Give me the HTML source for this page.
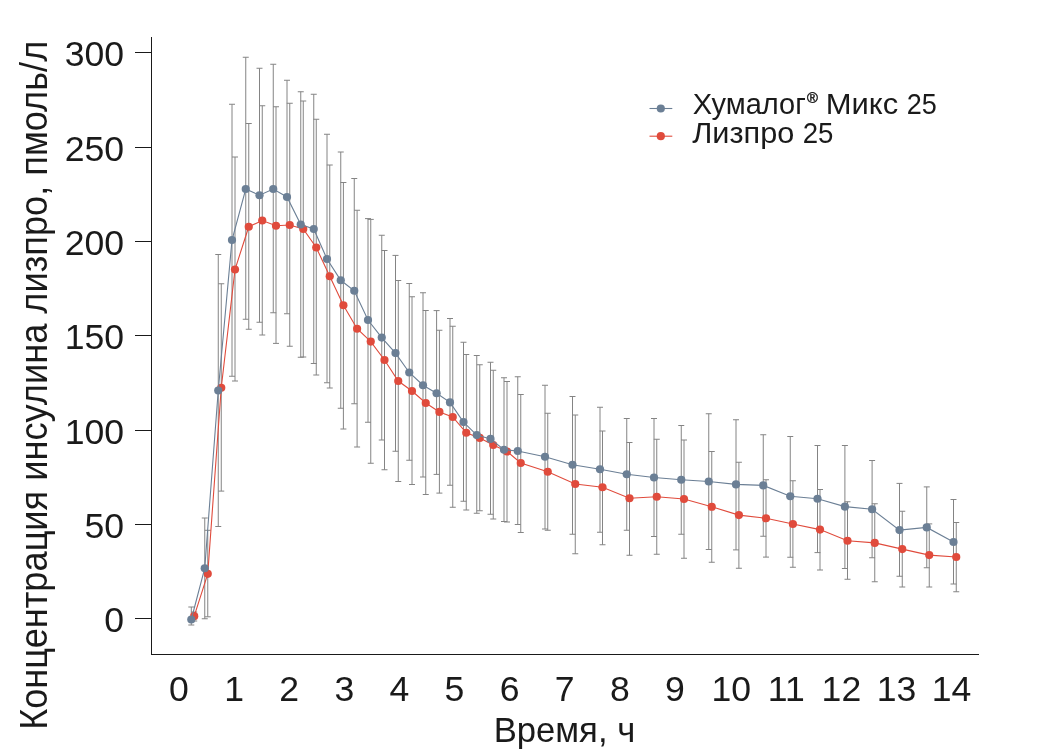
<!DOCTYPE html>
<html lang="ru"><head><meta charset="utf-8"><title>Концентрация инсулина лизпро</title>
<style>html,body{margin:0;padding:0;background:#fff}svg{display:block}</style></head><body>
<svg width="1040" height="753" viewBox="0 0 1040 753" font-family="Liberation Sans, Arial, sans-serif" fill="#1a1a1a">
<rect width="1040" height="753" fill="#fff"/>
<path d="M194.20 612.00V621.00M191.20 612.00H197.20M191.20 621.00H197.20M207.75 530.30V616.80M204.75 530.30H210.75M204.75 616.80H210.75M221.25 283.75V491.10M218.25 283.75H224.25M218.25 491.10H224.25M235.00 157.00V381.00M232.00 157.00H238.00M232.00 381.00H238.00M248.75 123.50V329.25M245.75 123.50H251.75M245.75 329.25H251.75M262.25 105.75V335.00M259.25 105.75H265.25M259.25 335.00H265.25M276.00 106.75V343.40M273.00 106.75H279.00M273.00 343.40H279.00M289.75 103.25V346.25M286.75 103.25H292.75M286.75 346.25H292.75M303.25 101.00V357.00M300.25 101.00H306.25M300.25 357.00H306.25M316.25 119.25V375.00M313.25 119.25H319.25M313.25 375.00H319.25M329.75 165.00V388.00M326.75 165.00H332.75M326.75 388.00H332.75M343.40 182.50V429.00M340.40 182.50H346.40M340.40 429.00H346.40M357.10 210.25V447.00M354.10 210.25H360.10M354.10 447.00H360.10M370.75 219.40V463.25M367.75 219.40H373.75M367.75 463.25H373.75M384.50 250.50V469.75M381.50 250.50H387.50M381.50 469.75H387.50M398.25 280.50V481.50M395.25 280.50H401.25M395.25 481.50H401.25M412.00 296.75V484.50M409.00 296.75H415.00M409.00 484.50H415.00M425.75 310.50V494.50M422.75 310.50H428.75M422.75 494.50H428.75M439.40 330.25V493.10M436.40 330.25H442.40M436.40 493.10H442.40M452.75 326.25V507.25M449.75 326.25H455.75M449.75 507.25H455.75M466.25 354.50V510.00M463.25 354.50H469.25M463.25 510.00H469.25M479.75 364.75V510.75M476.75 364.75H482.75M476.75 510.75H482.75M493.25 370.25V519.00M490.25 370.25H496.25M490.25 519.00H496.25M507.00 381.50V522.00M504.00 381.50H510.00M504.00 522.00H510.00M520.75 394.50V532.50M517.75 394.50H523.75M517.75 532.50H523.75M547.75 413.25V530.25M544.75 413.25H550.75M544.75 530.25H550.75M575.25 415.00V553.75M572.25 415.00H578.25M572.25 553.75H578.25M602.50 431.00V544.75M599.50 431.00H605.50M599.50 544.75H605.50M629.50 442.50V555.25M626.50 442.50H632.50M626.50 555.25H632.50M656.75 439.25V554.25M653.75 439.25H659.75M653.75 554.25H659.75M684.00 440.00V558.25M681.00 440.00H687.00M681.00 558.25H687.00M711.75 451.50V562.25M708.75 451.50H714.75M708.75 562.25H714.75M738.90 462.25V568.25M735.90 462.25H741.90M735.90 568.25H741.90M766.00 479.75V557.10M763.00 479.75H769.00M763.00 557.10H769.00M792.90 480.75V567.25M789.90 480.75H795.90M789.90 567.25H795.90M820.00 489.50V570.00M817.00 489.50H823.00M817.00 570.00H823.00M847.50 501.75V579.25M844.50 501.75H850.50M844.50 579.25H850.50M874.75 503.75V581.75M871.75 503.75H877.75M871.75 581.75H877.75M902.25 511.25V587.00M899.25 511.25H905.25M899.25 587.00H905.25M929.25 523.90V587.00M926.25 523.90H932.25M926.25 587.00H932.25M956.25 522.50V591.75M953.25 522.50H959.25M953.25 591.75H959.25" stroke="#848484" stroke-width="1" fill="none"/>
<path d="M191.30 607.00V625.00M188.30 607.00H194.30M188.30 625.00H194.30M204.75 518.00V618.75M201.75 518.00H207.75M201.75 618.75H207.75M218.25 254.50V526.50M215.25 254.50H221.25M215.25 526.50H221.25M232.00 104.25V376.25M229.00 104.25H235.00M229.00 376.25H235.00M245.75 57.25V319.25M242.75 57.25H248.75M242.75 319.25H248.75M259.50 68.25V322.25M256.50 68.25H262.50M256.50 322.25H262.50M273.25 64.25V312.75M270.25 64.25H276.25M270.25 312.75H276.25M287.00 80.25V313.75M284.00 80.25H290.00M284.00 313.75H290.00M300.75 91.75V357.25M297.75 91.75H303.75M297.75 357.25H303.75M313.75 94.25V363.50M310.75 94.25H316.75M310.75 363.50H316.75M327.00 134.25V382.75M324.00 134.25H330.00M324.00 382.75H330.00M340.75 152.00V408.25M337.75 152.00H343.75M337.75 408.25H343.75M354.25 178.50V403.75M351.25 178.50H357.25M351.25 403.75H357.25M368.00 218.60V422.25M365.00 218.60H371.00M365.00 422.25H371.00M381.75 235.25V440.00M378.75 235.25H384.75M378.75 440.00H384.75M395.50 255.40V451.25M392.50 255.40H398.50M392.50 451.25H398.50M409.25 283.50V460.25M406.25 283.50H412.25M406.25 460.25H412.25M423.00 292.75V477.00M420.00 292.75H426.00M420.00 477.00H426.00M436.60 310.60V474.40M433.60 310.60H439.60M433.60 474.40H439.60M450.00 318.50V485.25M447.00 318.50H453.00M447.00 485.25H453.00M463.50 342.25V501.25M460.50 342.25H466.50M460.50 501.25H466.50M476.75 355.50V513.25M473.75 355.50H479.75M473.75 513.25H479.75M490.50 362.25V514.25M487.50 362.25H493.50M487.50 514.25H493.50M504.00 377.75V521.50M501.00 377.75H507.00M501.00 521.50H507.00M517.75 376.75V524.50M514.75 376.75H520.75M514.75 524.50H520.75M545.00 385.25V529.00M542.00 385.25H548.00M542.00 529.00H548.00M572.50 396.50V534.25M569.50 396.50H575.50M569.50 534.25H575.50M600.00 407.25V532.25M597.00 407.25H603.00M597.00 532.25H603.00M626.75 418.50V530.25M623.75 418.50H629.75M623.75 530.25H629.75M654.00 418.50V536.50M651.00 418.50H657.00M651.00 536.50H657.00M681.25 425.50V534.25M678.25 425.50H684.25M678.25 534.25H684.25M708.75 413.75V549.50M705.75 413.75H711.75M705.75 549.50H711.75M736.00 419.75V549.90M733.00 419.75H739.00M733.00 549.90H739.00M763.25 434.75V536.25M760.25 434.75H766.25M760.25 536.25H766.25M790.25 436.50V557.25M787.25 436.50H793.25M787.25 557.25H793.25M817.50 445.50V552.60M814.50 445.50H820.50M814.50 552.60H820.50M844.90 445.50V568.50M841.90 445.50H847.90M841.90 568.50H847.90M872.10 460.50V557.75M869.10 460.50H875.10M869.10 557.75H875.10M899.50 483.40V576.25M896.50 483.40H902.50M896.50 576.25H902.50M926.75 486.90V567.75M923.75 486.90H929.75M923.75 567.75H929.75M953.50 499.50V584.00M950.50 499.50H956.50M950.50 584.00H956.50" stroke="#848484" stroke-width="1" fill="none"/>
<polyline points="194.20,616.20 207.75,573.80 221.25,387.75 235.00,269.50 248.75,226.75 262.25,220.50 276.00,225.75 289.75,225.00 303.25,229.00 316.25,247.50 329.75,276.25 343.40,305.25 357.10,328.75 370.75,341.60 384.50,360.00 398.25,381.00 412.00,391.00 425.75,403.00 439.40,411.90 452.75,417.00 466.25,432.75 479.75,437.90 493.25,445.00 507.00,451.50 520.75,463.00 547.75,471.75 575.25,484.00 602.50,487.25 629.50,498.25 656.75,496.75 684.00,499.00 711.75,506.75 738.90,515.10 766.00,518.25 792.90,524.00 820.00,529.60 847.50,540.75 874.75,542.90 902.25,549.10 929.25,555.10 956.25,557.00" fill="none" stroke="#e04b3c" stroke-width="1.1"/>
<g fill="#e04b3c"><circle cx="194.20" cy="616.20" r="4.1"/><circle cx="207.75" cy="573.80" r="4.1"/><circle cx="221.25" cy="387.75" r="4.1"/><circle cx="235.00" cy="269.50" r="4.1"/><circle cx="248.75" cy="226.75" r="4.1"/><circle cx="262.25" cy="220.50" r="4.1"/><circle cx="276.00" cy="225.75" r="4.1"/><circle cx="289.75" cy="225.00" r="4.1"/><circle cx="303.25" cy="229.00" r="4.1"/><circle cx="316.25" cy="247.50" r="4.1"/><circle cx="329.75" cy="276.25" r="4.1"/><circle cx="343.40" cy="305.25" r="4.1"/><circle cx="357.10" cy="328.75" r="4.1"/><circle cx="370.75" cy="341.60" r="4.1"/><circle cx="384.50" cy="360.00" r="4.1"/><circle cx="398.25" cy="381.00" r="4.1"/><circle cx="412.00" cy="391.00" r="4.1"/><circle cx="425.75" cy="403.00" r="4.1"/><circle cx="439.40" cy="411.90" r="4.1"/><circle cx="452.75" cy="417.00" r="4.1"/><circle cx="466.25" cy="432.75" r="4.1"/><circle cx="479.75" cy="437.90" r="4.1"/><circle cx="493.25" cy="445.00" r="4.1"/><circle cx="507.00" cy="451.50" r="4.1"/><circle cx="520.75" cy="463.00" r="4.1"/><circle cx="547.75" cy="471.75" r="4.1"/><circle cx="575.25" cy="484.00" r="4.1"/><circle cx="602.50" cy="487.25" r="4.1"/><circle cx="629.50" cy="498.25" r="4.1"/><circle cx="656.75" cy="496.75" r="4.1"/><circle cx="684.00" cy="499.00" r="4.1"/><circle cx="711.75" cy="506.75" r="4.1"/><circle cx="738.90" cy="515.10" r="4.1"/><circle cx="766.00" cy="518.25" r="4.1"/><circle cx="792.90" cy="524.00" r="4.1"/><circle cx="820.00" cy="529.60" r="4.1"/><circle cx="847.50" cy="540.75" r="4.1"/><circle cx="874.75" cy="542.90" r="4.1"/><circle cx="902.25" cy="549.10" r="4.1"/><circle cx="929.25" cy="555.10" r="4.1"/><circle cx="956.25" cy="557.00" r="4.1"/></g>
<polyline points="191.30,619.50 204.75,568.25 218.25,390.50 232.00,240.00 245.75,189.00 259.50,195.25 273.25,189.00 287.00,197.00 300.75,224.50 313.75,229.00 327.00,259.00 340.75,280.25 354.25,290.75 368.00,320.00 381.75,337.60 395.50,353.10 409.25,372.50 423.00,385.25 436.60,393.25 450.00,402.40 463.50,422.10 476.75,435.10 490.50,438.90 504.00,449.75 517.75,451.00 545.00,456.75 572.50,464.75 600.00,469.25 626.75,474.25 654.00,477.50 681.25,479.75 708.75,481.50 736.00,484.40 763.25,485.40 790.25,496.25 817.50,498.75 844.90,506.60 872.10,509.25 899.50,530.10 926.75,527.40 953.50,542.00" fill="none" stroke="#6b7f95" stroke-width="1.1"/>
<g fill="#6b7f95"><circle cx="191.30" cy="619.50" r="4.1"/><circle cx="204.75" cy="568.25" r="4.1"/><circle cx="218.25" cy="390.50" r="4.1"/><circle cx="232.00" cy="240.00" r="4.1"/><circle cx="245.75" cy="189.00" r="4.1"/><circle cx="259.50" cy="195.25" r="4.1"/><circle cx="273.25" cy="189.00" r="4.1"/><circle cx="287.00" cy="197.00" r="4.1"/><circle cx="300.75" cy="224.50" r="4.1"/><circle cx="313.75" cy="229.00" r="4.1"/><circle cx="327.00" cy="259.00" r="4.1"/><circle cx="340.75" cy="280.25" r="4.1"/><circle cx="354.25" cy="290.75" r="4.1"/><circle cx="368.00" cy="320.00" r="4.1"/><circle cx="381.75" cy="337.60" r="4.1"/><circle cx="395.50" cy="353.10" r="4.1"/><circle cx="409.25" cy="372.50" r="4.1"/><circle cx="423.00" cy="385.25" r="4.1"/><circle cx="436.60" cy="393.25" r="4.1"/><circle cx="450.00" cy="402.40" r="4.1"/><circle cx="463.50" cy="422.10" r="4.1"/><circle cx="476.75" cy="435.10" r="4.1"/><circle cx="490.50" cy="438.90" r="4.1"/><circle cx="504.00" cy="449.75" r="4.1"/><circle cx="517.75" cy="451.00" r="4.1"/><circle cx="545.00" cy="456.75" r="4.1"/><circle cx="572.50" cy="464.75" r="4.1"/><circle cx="600.00" cy="469.25" r="4.1"/><circle cx="626.75" cy="474.25" r="4.1"/><circle cx="654.00" cy="477.50" r="4.1"/><circle cx="681.25" cy="479.75" r="4.1"/><circle cx="708.75" cy="481.50" r="4.1"/><circle cx="736.00" cy="484.40" r="4.1"/><circle cx="763.25" cy="485.40" r="4.1"/><circle cx="790.25" cy="496.25" r="4.1"/><circle cx="817.50" cy="498.75" r="4.1"/><circle cx="844.90" cy="506.60" r="4.1"/><circle cx="872.10" cy="509.25" r="4.1"/><circle cx="899.50" cy="530.10" r="4.1"/><circle cx="926.75" cy="527.40" r="4.1"/><circle cx="953.50" cy="542.00" r="4.1"/></g>
<g shape-rendering="crispEdges" fill="none" stroke="#1a1a1a" stroke-width="1">
<path d="M151.5 37V654.5H979"/>
<path d="M135 618.5H151.5M135 524.5H151.5M135 430.5H151.5M135 335.5H151.5M135 241.5H151.5M135 147.5H151.5M135 52.5H151.5"/>
</g>
<text x="124.1" y="631.80" font-size="35.6" text-anchor="end">0</text>
<text x="124.1" y="537.80" font-size="35.6" text-anchor="end">50</text>
<text x="124.1" y="443.80" font-size="35.6" text-anchor="end">100</text>
<text x="124.1" y="348.80" font-size="35.6" text-anchor="end">150</text>
<text x="124.1" y="254.80" font-size="35.6" text-anchor="end">200</text>
<text x="124.1" y="160.80" font-size="35.6" text-anchor="end">250</text>
<text x="124.1" y="65.80" font-size="35.6" text-anchor="end">300</text>
<text x="179.00" y="701.4" font-size="35.6" text-anchor="middle">0</text>
<text x="234.10" y="701.4" font-size="35.6" text-anchor="middle">1</text>
<text x="289.20" y="701.4" font-size="35.6" text-anchor="middle">2</text>
<text x="344.30" y="701.4" font-size="35.6" text-anchor="middle">3</text>
<text x="399.40" y="701.4" font-size="35.6" text-anchor="middle">4</text>
<text x="454.50" y="701.4" font-size="35.6" text-anchor="middle">5</text>
<text x="509.60" y="701.4" font-size="35.6" text-anchor="middle">6</text>
<text x="564.70" y="701.4" font-size="35.6" text-anchor="middle">7</text>
<text x="619.80" y="701.4" font-size="35.6" text-anchor="middle">8</text>
<text x="674.90" y="701.4" font-size="35.6" text-anchor="middle">9</text>
<text x="731.20" y="701.4" font-size="35.6" text-anchor="middle">10</text>
<text x="786.30" y="701.4" font-size="35.6" text-anchor="middle">11</text>
<text x="841.40" y="701.4" font-size="35.6" text-anchor="middle">12</text>
<text x="896.50" y="701.4" font-size="35.6" text-anchor="middle">13</text>
<text x="951.60" y="701.4" font-size="35.6" text-anchor="middle">14</text>
<text x="493.66" y="741.70" font-size="35.8" textLength="141.53" lengthAdjust="spacingAndGlyphs">Время, ч</text>
<text transform="translate(47.2 729.86) rotate(-90)" font-size="38" textLength="689.13" lengthAdjust="spacingAndGlyphs">Концентрация инсулина лизпро, пмоль/л</text>
<path d="M649.5 108.5H672.3" stroke="#6b7f95" stroke-width="1.1"/><circle cx="660.8" cy="108.5" r="4.1" fill="#6b7f95"/>
<path d="M649.5 136.2H672.3" stroke="#e04b3c" stroke-width="1.1"/><circle cx="660.8" cy="136.2" r="4.1" fill="#e04b3c"/>
<text x="692.75" y="113.80" font-size="29" textLength="113.03" lengthAdjust="spacingAndGlyphs">Хумалог</text>
<text x="806.90" y="102.90" font-size="14.5" textLength="10.88" lengthAdjust="spacingAndGlyphs" stroke="#1a1a1a" stroke-width="0.45">®</text>
<text x="825.76" y="113.80" font-size="29" textLength="72.47" lengthAdjust="spacingAndGlyphs">Микс</text>
<text x="906.77" y="113.80" font-size="29" textLength="30.09" lengthAdjust="spacingAndGlyphs">25</text>
<text x="692.25" y="142.75" font-size="29" textLength="102.04" lengthAdjust="spacingAndGlyphs">Лизпро</text>
<text x="802.65" y="142.75" font-size="29" textLength="30.73" lengthAdjust="spacingAndGlyphs">25</text>
</svg></body></html>
